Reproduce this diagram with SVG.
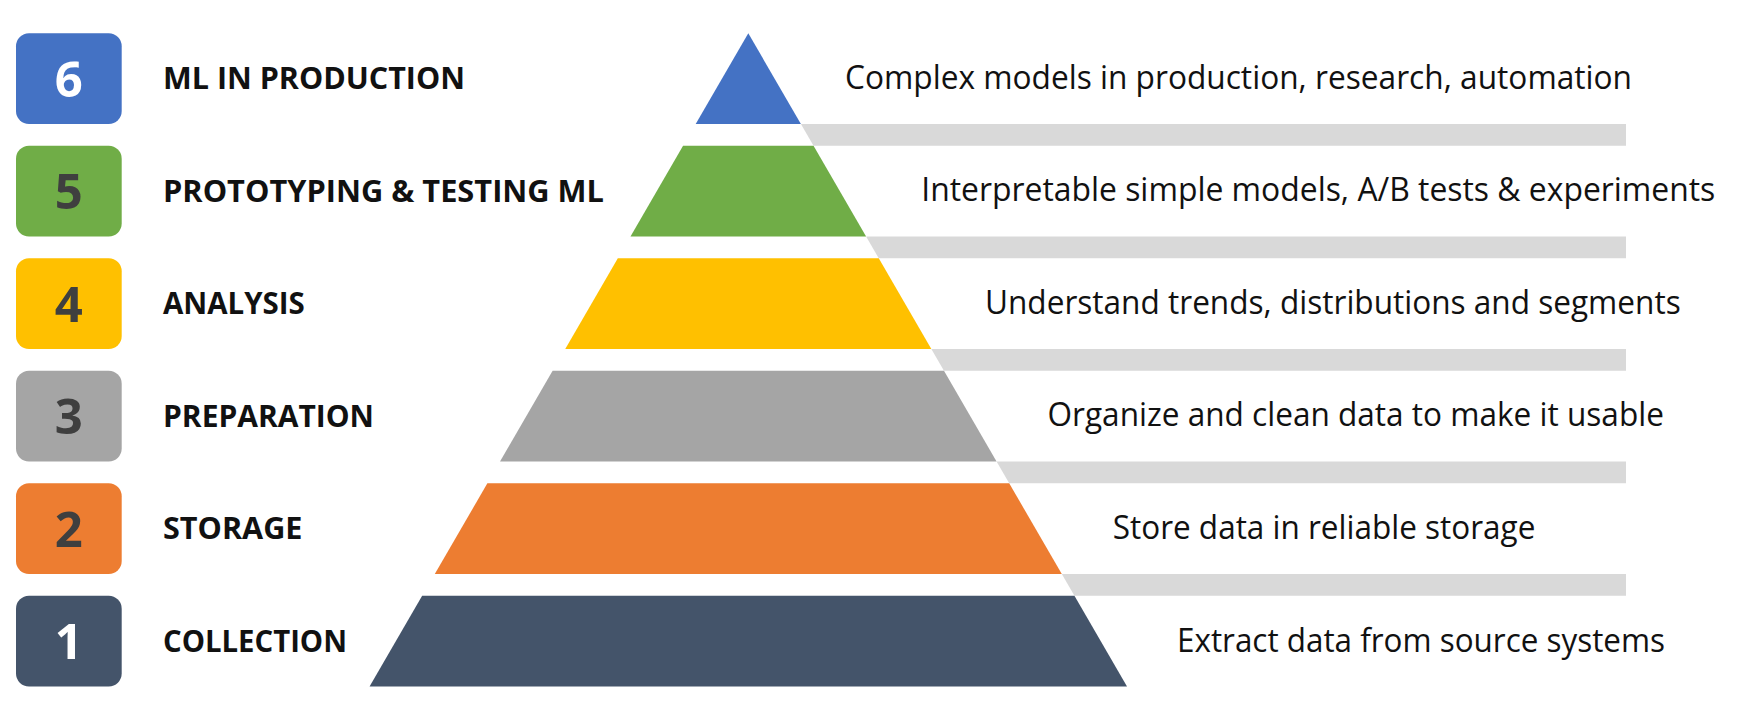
<svg xmlns="http://www.w3.org/2000/svg" width="1751" height="707" viewBox="0 0 1751 707">
<style>
.badge{stroke:none}
.num{font-family:"Open Sans","Liberation Sans",sans-serif;font-weight:700;font-size:49px;text-anchor:middle}
.lbl{font-family:"Open Sans","Liberation Sans",sans-serif;font-weight:700;font-size:31px;fill:#111}
.desc{font-family:"Open Sans","Liberation Sans",sans-serif;font-weight:400;font-size:32px;fill:#111}
.bar{fill:#D9D9D9}
.w{fill:#FFFFFF}
.d{fill:#3F3F3F}
</style>
<rect width="1751" height="707" fill="#FFFFFF"/>
<g id="connectors">
<polygon class="bar" points="800.9,124 1626,124 1626,145.8 813.53,145.8"/>
<polygon class="bar" points="866.11,236.5 1626,236.5 1626,258.3 878.76,258.3"/>
<polygon class="bar" points="931.34,349 1626,349 1626,370.8 943.98,370.8"/>
<polygon class="bar" points="996.57,461.5 1626,461.5 1626,483.3 1009.21,483.3"/>
<polygon class="bar" points="1061.8,574 1626,574 1626,595.8 1074.44,595.8"/>
</g>
<g id="level6">
<rect class="badge" x="16" y="33.3" width="105.7" height="90.7" rx="13" fill="#4472C4"/>
<text class="num w" x="68.8" y="96.5">6</text>
<text class="lbl" x="163" y="89.3" textLength="302" lengthAdjust="spacingAndGlyphs">ML IN PRODUCTION</text>
<polygon points="748.3,33.3 800.9,124 695.7,124" fill="#4472C4"/>
<text class="desc" x="845" y="89.3" textLength="787" lengthAdjust="spacingAndGlyphs">Complex models in production, research, automation</text>
</g>
<g id="level5">
<rect class="badge" x="16" y="145.8" width="105.7" height="90.7" rx="13" fill="#70AD47"/>
<text class="num d" x="68.8" y="209">5</text>
<text class="lbl" x="163" y="201.5" textLength="441" lengthAdjust="spacingAndGlyphs">PROTOTYPING &amp; TESTING ML</text>
<polygon points="683.07,145.8 813.53,145.8 866.11,236.5 630.49,236.5" fill="#70AD47"/>
<text class="desc" x="921.3" y="201.3" textLength="794" lengthAdjust="spacingAndGlyphs">Interpretable simple models, A/B tests &amp; experiments</text>
</g>
<g id="level4">
<rect class="badge" x="16" y="258.3" width="105.7" height="90.7" rx="13" fill="#FFC000"/>
<text class="num d" x="68.8" y="321.5">4</text>
<text class="lbl" x="163" y="314" textLength="141.8" lengthAdjust="spacingAndGlyphs">ANALYSIS</text>
<polygon points="617.84,258.3 878.76,258.3 931.34,349 565.26,349" fill="#FFC000"/>
<text class="desc" x="985" y="313.8" textLength="695.7" lengthAdjust="spacingAndGlyphs">Understand trends, distributions and segments</text>
</g>
<g id="level3">
<rect class="badge" x="16" y="370.8" width="105.7" height="90.7" rx="13" fill="#A5A5A5"/>
<text class="num d" x="68.8" y="434">3</text>
<text class="lbl" x="163" y="426.5" textLength="211" lengthAdjust="spacingAndGlyphs">PREPARATION</text>
<polygon points="552.62,370.8 943.98,370.8 996.57,461.5 500.03,461.5" fill="#A5A5A5"/>
<text class="desc" x="1047.5" y="426.3" textLength="616.4" lengthAdjust="spacingAndGlyphs">Organize and clean data to make it usable</text>
</g>
<g id="level2">
<rect class="badge" x="16" y="483.3" width="105.7" height="90.7" rx="13" fill="#ED7D31"/>
<text class="num d" x="68.8" y="546.5">2</text>
<text class="lbl" x="163" y="539" textLength="139.5" lengthAdjust="spacingAndGlyphs">STORAGE</text>
<polygon points="487.39,483.3 1009.21,483.3 1061.8,574 434.8,574" fill="#ED7D31"/>
<text class="desc" x="1112.7" y="539" textLength="422.7" lengthAdjust="spacingAndGlyphs">Store data in reliable storage</text>
</g>
<g id="level1">
<rect class="badge" x="16" y="595.8" width="105.7" height="90.7" rx="13" fill="#44546A"/>
<text class="num w" x="68.8" y="659">1</text>
<text class="lbl" x="163" y="651.7" textLength="184" lengthAdjust="spacingAndGlyphs">COLLECTION</text>
<polygon points="422.16,595.8 1074.44,595.8 1127.03,686.5 369.57,686.5" fill="#44546A"/>
<text class="desc" x="1177" y="651.5" textLength="488" lengthAdjust="spacingAndGlyphs">Extract data from source systems</text>
</g>
</svg>
